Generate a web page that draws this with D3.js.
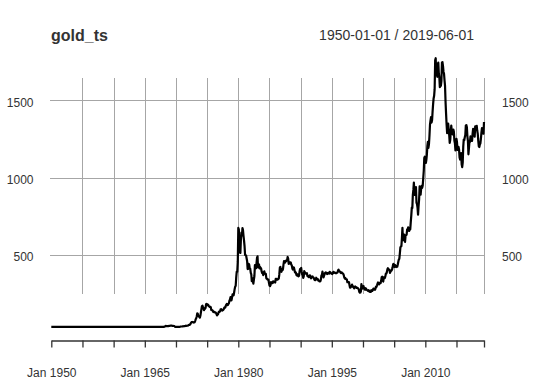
<!DOCTYPE html>
<html>
<head>
<meta charset="utf-8">
<script src="https://cdnjs.cloudflare.com/ajax/libs/d3/7.8.5/d3.min.js"></script>
<style>
  body { margin: 0; background: #fff; }
  text { font-family: "Liberation Sans", Arial, sans-serif; }
</style>
</head>
<body>
<div id="chart"></div>
<script>
var width = 536,
    height = 392;

// yearly values for the flat years 1950-1967 (one per January)
var flatYears = [34.72, 34.72, 34.60, 34.84, 35.04, 35.03, 34.99, 34.95, 35.10,
                 35.10, 35.27, 35.25, 35.23, 35.09, 35.10, 35.12, 35.13, 34.95];

// monthly values from Jan 1968 on, one row per year
var monthly1968 = [
  [35.2, 35.2, 37.3, 38.0, 41.0, 41.0, 40.0, 39.0, 39.5, 39.5, 41.0, 41.0],
  [42.0, 42.5, 43.5, 43.3, 43.5, 41.3, 41.8, 41.0, 40.8, 40.1, 36.0, 35.2],
  [34.9, 35.0, 35.1, 35.6, 35.9, 35.4, 35.3, 35.4, 36.2, 37.5, 37.4, 37.4],
  [37.9, 38.7, 38.9, 39.0, 40.5, 40.1, 41.0, 42.7, 42.0, 42.5, 42.9, 43.5],
  [45.8, 48.3, 48.3, 49.0, 54.6, 62.1, 65.7, 67.0, 65.5, 64.9, 62.9, 63.9],
  [65.1, 74.2, 84.4, 90.5, 102.0, 122.5, 120.2, 106.8, 103.0, 100.1, 94.8, 106.7],
  [129.2, 150.2, 168.4, 172.2, 163.3, 154.1, 142.9, 154.6, 151.8, 158.8, 181.7, 183.9],
  [176.0, 179.6, 178.2, 170.1, 167.4, 164.2, 165.2, 163.1, 144.0, 142.8, 142.8, 139.3],
  [131.5, 131.0, 132.6, 128.2, 128.1, 125.4, 117.8, 109.3, 114.0, 116.0, 130.3, 133.7],
  [132.3, 136.3, 148.2, 149.2, 146.7, 140.8, 143.4, 144.8, 150.0, 158.6, 162.6, 160.5],
  [173.2, 178.2, 183.7, 175.1, 176.3, 183.7, 188.8, 206.1, 212.3, 227.3, 206.1, 207.8],
  [227.3, 245.7, 242.1, 239.2, 257.6, 279.1, 294.4, 300.8, 355.2, 391.7, 392.5, 455.1]
];

var monthly1980 = [
  [675, 665, 553, 517, 513, 600, 644, 627, 674, 661, 623, 594],
  [557, 500, 499, 496, 479, 460, 409, 410, 443, 437, 413, 410],
  [384, 374, 330, 350, 334, 315, 339, 364, 435, 422, 414, 444],
  [481, 491, 420, 432, 438, 413, 422, 416, 411, 393, 382, 388],
  [370, 386, 394, 381, 377, 378, 348, 348, 341, 340, 341, 320],
  [303, 299, 304, 325, 317, 317, 317, 330, 323, 326, 325, 322],
  [345, 339, 346, 340, 342, 343, 348, 376, 418, 423, 398, 391],
  [408, 401, 409, 438, 460, 450, 450, 461, 460, 465, 468, 487],
  [477, 443, 444, 452, 452, 451, 437, 432, 413, 406, 420, 419],
  [404, 388, 390, 384, 371, 367, 375, 365, 362, 367, 394, 409]
];

var monthly1990 = [
  [410, 416, 393, 374, 369, 352, 362, 395, 389, 381, 381, 378],
  [383, 364, 363, 358, 357, 367, 368, 356, 349, 359, 360, 361],
  [354, 354, 345, 338, 337, 341, 353, 343, 345, 344, 335, 334],
  [329, 329, 330, 342, 367, 371, 392, 378, 355, 365, 374, 383],
  [387, 382, 384, 377, 381, 385, 385, 380, 391, 389, 384, 379],
  [379, 377, 382, 391, 385, 387, 386, 383, 383, 383, 386, 387],
  [400, 405, 396, 393, 392, 385, 383, 387, 383, 381, 378, 369],
  [355, 347, 352, 344, 344, 341, 324, 324, 323, 325, 306, 289],
  [289, 297, 296, 308, 299, 292, 293, 284, 289, 296, 294, 291],
  [287, 288, 286, 282, 277, 261, 256, 257, 265, 311, 293, 283]
];

var monthly2000 = [
  [285, 299, 286, 280, 275, 285, 282, 275, 273, 270, 266, 272],
  [266, 262, 263, 261, 272, 270, 268, 273, 283, 283, 276, 275],
  [282, 296, 294, 302, 314, 322, 314, 310, 319, 317, 319, 333],
  [357, 359, 340, 328, 355, 356, 351, 360, 379, 379, 389, 407],
  [414, 405, 406, 404, 384, 392, 398, 400, 406, 420, 439, 442],
  [424, 423, 434, 429, 422, 430, 424, 438, 456, 470, 476, 510],
  [549, 555, 557, 610, 676, 596, 633, 632, 598, 585, 627, 629],
  [631, 665, 655, 679, 667, 655, 665, 665, 712, 754, 806, 803],
  [889, 922, 968, 909, 888, 889, 939, 839, 829, 806, 760, 816],
  [858, 943, 924, 890, 928, 946, 934, 949, 996, 1043, 1127, 1135]
];

var monthly2010 = [
  [1118, 1095, 1113, 1148, 1205, 1232, 1193, 1215, 1271, 1342, 1370, 1391],
  [1356, 1372, 1424, 1474, 1512, 1529, 1572, 1759, 1772, 1666, 1739, 1652],
  [1656, 1743, 1675, 1650, 1585, 1596, 1594, 1626, 1744, 1747, 1722, 1685],
  [1671, 1627, 1593, 1487, 1414, 1343, 1287, 1348, 1349, 1316, 1275, 1225],
  [1244, 1300, 1336, 1299, 1287, 1279, 1311, 1296, 1239, 1222, 1176, 1202],
  [1251, 1227, 1179, 1199, 1199, 1181, 1131, 1117, 1125, 1159, 1086, 1068],
  [1097, 1200, 1246, 1242, 1261, 1276, 1337, 1340, 1326, 1267, 1238, 1151],
  [1192, 1234, 1231, 1267, 1246, 1260, 1237, 1283, 1315, 1280, 1283, 1265],
  [1331, 1331, 1325, 1335, 1303, 1282, 1238, 1202, 1198, 1215, 1221, 1250],
  [1291, 1320, 1301, 1286, 1284, 1360]
];

var yTicks = [500, 1000, 1500];
var xLabelYears = [1950, 1965, 1980, 1995, 2010];

// build one series of {date, value}
var data = [];
flatYears.forEach(function(v, i) {
  data.push({date: new Date(1950 + i, 0, 1), value: v});
});
[[1968, monthly1968], [1980, monthly1980], [1990, monthly1990],
 [2000, monthly2000], [2010, monthly2010]].forEach(function(block) {
  block[1].forEach(function(row, r) {
    row.forEach(function(v, m) {
      data.push({date: new Date(block[0] + r, m, 1), value: v});
    });
  });
});

var start = data[0].date,
    end = data[data.length - 1].date;

var x = d3.scaleTime()
    .domain([start, end])
    .range([51.3, 484]);

var y = d3.scaleLinear()
    .domain([0, 1500])
    .range([332.3, 100.3]);

// tick every 5 years plus the last date
var xTicks = d3.range(1950, 2016, 5).map(function(yr) { return new Date(yr, 0, 1); });
xTicks.push(end);

var svg = d3.select("#chart").append("svg")
    .attr("width", width)
    .attr("height", height);

// horizontal grid
svg.selectAll(".hgrid")
    .data(yTicks)
  .enter().append("line")
    .attr("class", "hgrid")
    .attr("x1", 50)
    .attr("x2", 484)
    .attr("y1", function(d) { return Math.round(y(d)) + 0.5; })
    .attr("y2", function(d) { return Math.round(y(d)) + 0.5; })
    .style("stroke", "#a6a6a6")
    .style("stroke-width", 1);

// vertical grid (not at the first tick)
svg.selectAll(".vgrid")
    .data(xTicks.slice(1))
  .enter().append("line")
    .attr("class", "vgrid")
    .attr("x1", function(d) { return Math.round(x(d)) + 0.5; })
    .attr("x2", function(d) { return Math.round(x(d)) + 0.5; })
    .attr("y1", 78)
    .attr("y2", 294)
    .style("stroke", "#a6a6a6")
    .style("stroke-width", 1);

// y labels on both sides
svg.selectAll(".ylab-left")
    .data(yTicks)
  .enter().append("text")
    .attr("x", 33.5)
    .attr("y", function(d) { return y(d) + 6.5; })
    .style("text-anchor", "end")
    .style("font-size", "12px")
    .style("fill", "#333")
    .text(function(d) { return d; });

svg.selectAll(".ylab-right")
    .data(yTicks)
  .enter().append("text")
    .attr("x", 502)
    .attr("y", function(d) { return y(d) + 6.5; })
    .style("text-anchor", "start")
    .style("font-size", "12px")
    .style("fill", "#333")
    .text(function(d) { return d; });

// bottom axis
var xAxis = d3.axisBottom(x)
    .tickValues(xTicks)
    .tickSize(7)
    .tickSizeOuter(0)
    .tickFormat(function(d) {
      return xLabelYears.indexOf(d.getFullYear()) >= 0 && d.getMonth() === 0
          ? d3.timeFormat("%b %Y")(d) : "";
    });

var gx = svg.append("g")
    .attr("transform", "translate(0,340.5)")
    .call(xAxis);

gx.select(".domain").style("stroke", "#333").style("stroke-width", 1.3);
gx.selectAll(".tick line").style("stroke", "#333").style("stroke-width", 1.3);
gx.selectAll(".tick text")
    .attr("y", 28)
    .style("font-family", "Liberation Sans, Arial, sans-serif")
    .style("font-size", "12px")
    .style("fill", "#333");

// the series
var line = d3.line()
    .x(function(d) { return x(d.date); })
    .y(function(d) { return y(d.value); });

svg.append("path")
    .datum(data)
    .attr("d", line)
    .style("fill", "none")
    .style("stroke", "#000")
    .style("stroke-width", 2.2)
    .style("stroke-linejoin", "round");

// title and date range
svg.append("text")
    .attr("x", 51)
    .attr("y", 41)
    .style("font-size", "16px")
    .style("font-weight", "bold")
    .style("fill", "#333")
    .text("gold_ts");

svg.append("text")
    .attr("x", 474)
    .attr("y", 40)
    .style("text-anchor", "end")
    .style("font-size", "14px")
    .style("fill", "#333")
    .text(d3.timeFormat("%Y-%m-%d")(start) + " / " + d3.timeFormat("%Y-%m-%d")(end));
</script>
</body>
</html>
